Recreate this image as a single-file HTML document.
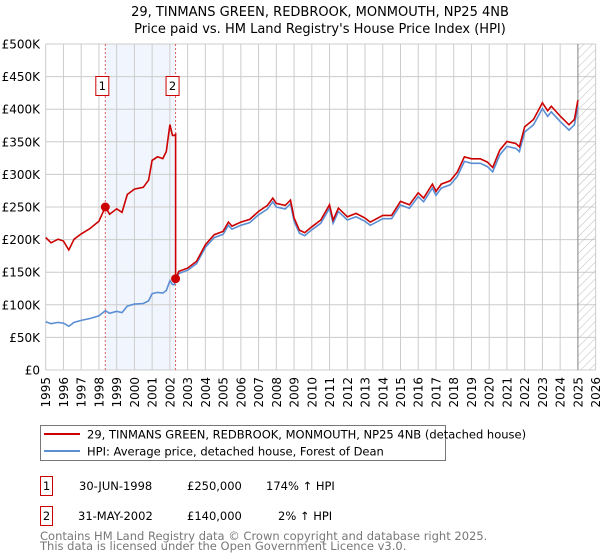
<!DOCTYPE html>
<html><head><meta charset="utf-8">
<style>
body{margin:0;background:#fff;font-family:"Liberation Sans","DejaVu Sans",sans-serif;}
#wrap{position:relative;width:600px;height:560px;overflow:hidden;}
svg text{font-family:"DejaVu Sans","Liberation Sans",sans-serif;}
</style></head>
<body>
<div id="wrap">
<svg id="chart" width="600" height="560">
  <text x="320" y="16" text-anchor="middle" font-size="13" fill="#000">29, TINMANS GREEN, REDBROOK, MONMOUTH, NP25 4NB</text>
  <text x="320" y="33" text-anchor="middle" font-size="13" fill="#000">Price paid vs. HM Land Registry's House Price Index (HPI)</text>
  <g id="grid"></g>
  <g id="marks"></g>
  <g id="axes"></g>

  <g>
    <rect x="40.5" y="425.5" width="405" height="35" fill="#fff" stroke="#777"/>
    <line x1="44" y1="434" x2="80" y2="434" stroke="#cc0000" stroke-width="2"/>
    <text x="87" y="438.5" font-size="11.5" fill="#000">29, TINMANS GREEN, REDBROOK, MONMOUTH, NP25 4NB (detached house)</text>
    <line x1="44" y1="451" x2="80" y2="451" stroke="#5b8fd4" stroke-width="2"/>
    <text x="87" y="455.5" font-size="11.5" fill="#000">HPI: Average price, detached house, Forest of Dean</text>
  </g>

  <g>
    <rect x="40.5" y="476.5" width="12" height="19" fill="#fff" stroke="#cc0000"/>
    <text x="46.5" y="490" text-anchor="middle" font-size="11.5">1</text>
    <text x="79" y="490" font-size="11.5">30-JUN-1998</text>
    <text x="187" y="490" font-size="11.5">£250,000</text>
    <text x="266" y="490" font-size="11.5">174% ↑ HPI</text>
  </g>
  <g>
    <rect x="40.5" y="506.5" width="12" height="19" fill="#fff" stroke="#cc0000"/>
    <text x="46.5" y="520" text-anchor="middle" font-size="11.5">2</text>
    <text x="78" y="520" font-size="11.5">31-MAY-2002</text>
    <text x="187" y="520" font-size="11.5">£140,000</text>
    <text x="278" y="520" font-size="11.5">2% ↑ HPI</text>
  </g>
  <text x="40" y="540" font-size="11.5" fill="#777">Contains HM Land Registry data © Crown copyright and database right 2025.</text>
  <text x="40" y="550" font-size="11.5" fill="#777">This data is licensed under the Open Government Licence v3.0.</text>
</svg>
</div>
<script>
const hpiYears = [1995,1995.3,1995.7,1996.0,1996.3,1996.6,1997,1997.5,1998,1998.36,1998.6,1999,1999.3,1999.6,2000,2000.5,2000.8,2001,2001.3,2001.6,2001.8,2002.0,2002.15,2002.25,2002.32,
 2002.5,2003,2003.5,2004,2004.5,2005,2005.3,2005.5,2006,2006.5,2007,2007.5,2007.8,2008,2008.5,2008.8,2009.0,2009.3,2009.6,
 2010,2010.5,2011.0,2011.2,2011.5,2012,2012.5,2013,2013.3,2014,2014.5,2015,2015.5,2016,2016.3,2016.8,2017.0,2017.3,2017.8,2018.2,2018.6,2019,2019.5,2019.9,2020.2,2020.6,2021.0,2021.5,2021.7,2022.0,2022.5,2023.0,2023.3,2023.5,2024.0,2024.5,2024.8,2025.0];
const hpiValues = [74,71,73,72,67,73,76,79,83,91,87,90,88,98,101,102,106,117,119,118,122,137,131,131,137,
 148,153,163,188,203,208,222,216,222,226,238,247,258,250,247,255,228,210,206,
 215,225,248,225,243,230,235,228,222,232,232,253,248,266,258,279,268,279,284,297,320,317,317,312,304,330,343,340,335,365,376,401,389,396,381,368,376,405];
const saleYears = [1998.36, 2002.32];
const salePrices = [250, 140];
const yTicks = [0,50,100,150,200,250,300,350,400,450,500];
const yTickLabels = ["£0","£50K","£100K","£150K","£200K","£250K","£300K","£350K","£400K","£450K","£500K"];
const xTicks = [1995,1996,1997,1998,1999,2000,2001,2002,2003,2004,2005,2006,2007,2008,2009,2010,2011,2012,2013,2014,2015,2016,2017,2018,2019,2020,2021,2022,2023,2024,2025,2026];

const NS = "http://www.w3.org/2000/svg";
const X0 = 45.7, XW = 17.74, Y0 = 370, YK = 0.652;
const xs = y => X0 + (y - 1995) * XW;
const ys = v => Y0 - v * YK;
function mk(tag, attrs, parent){const e=document.createElementNS(NS,tag);for(const k in attrs)e.setAttribute(k,attrs[k]);parent.appendChild(e);return e;}
const grid = document.getElementById('grid'), marks = document.getElementById('marks'), axes = document.getElementById('axes');

// shaded region between sales
let shade = mk('rect',{x:xs(saleYears[0]),y:ys(500),width:xs(saleYears[1])-xs(saleYears[0]),height:ys(0)-ys(500),fill:'#edf3fc',opacity:0.8},grid);



xTicks.forEach(t=>{
  let l = mk('line',{x1:xs(t),x2:xs(t),y1:ys(500),y2:ys(0),stroke:'#cccccc','stroke-width':1},grid);
  
  
  let tx = mk('text',{x:0,y:0,'font-size':12,'text-anchor':'end',transform:`translate(${xs(t)+4.5},${Y0+7}) rotate(-90)`},axes);
  tx.textContent = t;
  
  
});
yTicks.forEach((t,i)=>{
  let l = mk('line',{x1:xs(1995),x2:xs(2026),y1:ys(t),y2:ys(t),stroke:'#cccccc','stroke-width':1},grid);
  
  
  let tx = mk('text',{x:40,y:ys(t)+4.5,'font-size':12,'text-anchor':'end'},axes);
  tx.textContent = yTickLabels[i];
  
  
});

// hatched future region
const defs = mk('defs',{},marks);
const pat = mk('pattern',{id:'hatch',width:6,height:6,patternUnits:'userSpaceOnUse',patternTransform:'rotate(45)'},defs);
mk('line',{x1:0,y1:0,x2:0,y2:6,stroke:'#bbbbbb','stroke-width':1},pat);
let hz = mk('rect',{x:xs(2025),y:ys(500),width:xs(2026)-xs(2025),height:ys(0)-ys(500),fill:'url(#hatch)'},marks);


let hl = mk('line',{x1:xs(2025),x2:xs(2025),y1:ys(500),y2:ys(0),stroke:'#888','stroke-width':1},marks);



// sale vertical markers
saleYears.forEach((sy,i)=>{
  let l = mk('line',{x1:xs(sy),x2:xs(sy),y1:ys(500),y2:ys(0),stroke:'#e06060','stroke-width':1,'stroke-dasharray':'2,2'},marks);
  
  
  let r = mk('rect',{x:xs(sy)-9.5,y:76.5,width:13,height:19,fill:'#fff',stroke:'#cc0000'},marks);
  
  
  let t = mk('text',{x:xs(sy)-3,y:90,'font-size':11.5,'text-anchor':'middle'},marks);
  t.textContent = String(i+1);
  
  
});

// HPI line
let hp = hpiYears.map((y,i)=>`${i?'L':'M'}${xs(y).toFixed(1)},${ys(hpiValues[i]).toFixed(1)}`).join('');
let hpiPath = mk('path',{d:hp,fill:'none',stroke:'#5b8fd4','stroke-width':1.6},marks);



// property line (HPI indexed to sale prices)
function hpiAt(y){for(let i=0;i<hpiYears.length-1;i++){if(y>=hpiYears[i]&&y<=hpiYears[i+1]){const f=(y-hpiYears[i])/(hpiYears[i+1]-hpiYears[i]);return hpiValues[i]+f*(hpiValues[i+1]-hpiValues[i]);}}return hpiValues[hpiValues.length-1];}
const f1 = salePrices[0]/hpiAt(saleYears[0]), f2 = salePrices[1]/hpiAt(saleYears[1]);
let pts=[];
hpiYears.forEach((y,i)=>{ if(y<saleYears[1]) pts.push([y,hpiValues[i]*f1]); });
pts.push([saleYears[1],hpiAt(saleYears[1])*f1*0.96]);
pts.push([saleYears[1],salePrices[1]]);
hpiYears.forEach((y,i)=>{ if(y>saleYears[1]) pts.push([y,hpiValues[i]*f2]); });
let rp = pts.map((p,i)=>`${i?'L':'M'}${xs(p[0]).toFixed(1)},${ys(p[1]).toFixed(1)}`).join('');
let redPath = mk('path',{d:rp,fill:'none',stroke:'#cc0000','stroke-width':1.6},marks);



saleYears.forEach((sy,i)=>{
  let c = mk('circle',{cx:xs(sy),cy:ys(salePrices[i]),r:4.5,fill:'#cc0000'},marks);
  
  
});
</script>
</body></html>
